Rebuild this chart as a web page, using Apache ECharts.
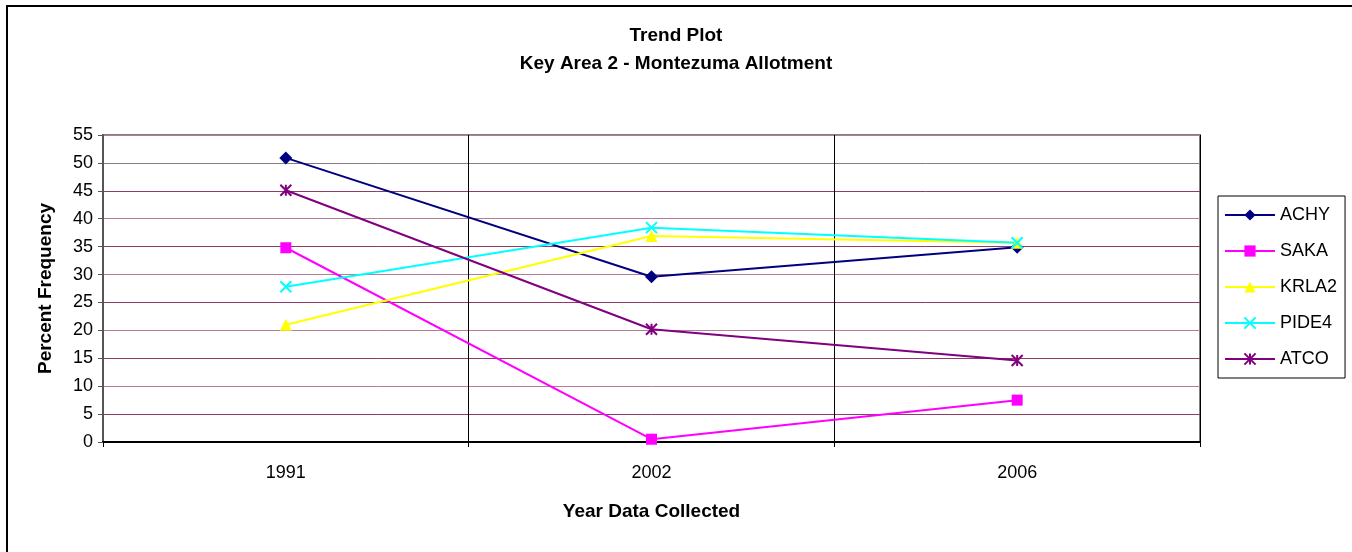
<!DOCTYPE html>
<html>
<head>
<meta charset="utf-8">
<script src="https://cdn.jsdelivr.net/npm/echarts@6/dist/echarts.min.js"></script>
<style>
  html, body { margin: 0; padding: 0; background: #fff; }
  #chart { width: 1352px; height: 552px; }
</style>
</head>
<body>
<div id="chart"></div>
<script>
// 年份
const years = ["1991", "2002", "2006"];
// 各物种百分比
const achy = [50.9, 29.6, 34.9];
const saka = [34.8, 0.5, 7.5];
const krla2 = [21.0, 36.9, 35.7];
const pide4 = [27.8, 38.4, 35.7];
const atco = [45.1, 20.2, 14.6];
const yTicks = [0, 5, 10, 15, 20, 25, 30, 35, 40, 45, 50, 55];

const font = "Liberation Sans, Arial, sans-serif";

let chart = echarts.init(document.getElementById("chart"));

function lineSeries(name, data, color, symbol, size, stroke) {
  return {
    name: name,
    type: "line",
    data: data,
    symbol: symbol,
    symbolSize: size,
    showSymbol: true,
    lineStyle: { color: color, width: 2 },
    itemStyle: stroke
      ? { color: color, borderColor: color, borderWidth: 2 }
      : { color: color, borderWidth: 0 },
    emphasis: { disabled: true },
  };
}

// 横向网格线颜色（最上面一条是灰色边框）
const gridColors = yTicks.slice(1).map((v, i) =>
  v === 55 ? "#808080" : (i % 2 === 0 ? "#b77a9a" : "#8e3b66")
);

let options = {
  animation: false,
  title: {
    text: "Trend Plot\nKey Area 2 - Montezuma Allotment",
    left: "center",
    top: 17,
    textStyle: {
      fontFamily: font,
      fontSize: 19,
      fontWeight: "bold",
      color: "#000",
      lineHeight: 28,
    },
  },
  grid: {
    left: 103,
    right: 1352 - 1200,
    top: 135,
    bottom: 552 - 442,
    containLabel: false,
    show: true,
    borderColor: "#808080",
    borderWidth: 2,
  },
  legend: {
    orient: "vertical",
    left: 1218,
    top: 196,
    padding: [10, 8, 10, 6],
    itemWidth: 50,
    itemHeight: 14,
    itemGap: 18,
    borderColor: "#000",
    borderWidth: 1,
    textStyle: { fontFamily: font, fontSize: 18, color: "#000" },
    data: ["ACHY", "SAKA", "KRLA2", "PIDE4", "ATCO"],
  },
  xAxis: {
    type: "category",
    data: years,
    boundaryGap: true,
    name: "Year Data Collected",
    nameLocation: "middle",
    nameGap: 60,
    nameTextStyle: { fontFamily: font, fontSize: 19, fontWeight: "bold", color: "#000" },
    axisLine: { lineStyle: { color: "#000", width: 2 } },
    axisTick: { show: true, length: 5, lineStyle: { color: "#000" } },
    axisLabel: { fontFamily: font, fontSize: 18, color: "#000", margin: 22 },
    splitLine: { show: true, lineStyle: { color: "#000", width: 1 } },
  },
  yAxis: {
    type: "value",
    min: 0,
    max: 55,
    interval: 5,
    name: "Percent Frequency",
    nameLocation: "middle",
    nameGap: 48,
    nameTextStyle: { fontFamily: font, fontSize: 19, fontWeight: "bold", color: "#000" },
    axisLine: { show: true, lineStyle: { color: "#555", width: 2 } },
    axisTick: { show: true, length: 5, lineStyle: { color: "#555" } },
    axisLabel: { fontFamily: font, fontSize: 18, color: "#000", margin: 10 },
    splitLine: { show: true, lineStyle: { color: gridColors, width: 1 } },
  },
  series: [
    lineSeries("ACHY", achy, "#000080", "diamond", 13, false),
    lineSeries("SAKA", saka, "#ff00ff", "rect", 11, false),
    lineSeries("KRLA2", krla2, "#ffff00", "triangle", 12, false),
    lineSeries("PIDE4", pide4, "#00ffff", "path://M0,0L10,10M10,0L0,10", 11, true),
    lineSeries("ATCO", atco, "#800080", "path://M0,0L10,10M10,0L0,10M5,0L5,10", 11, true),
  ],
  graphic: [
    {
      type: "rect",
      shape: { x: 7, y: 6, width: 1400, height: 600 },
      style: { fill: "none", stroke: "#000", lineWidth: 2 },
      silent: true,
    },
  ],
};

options && chart.setOption(options);
window.onresize = chart.resize;
</script>
</body>
</html>
